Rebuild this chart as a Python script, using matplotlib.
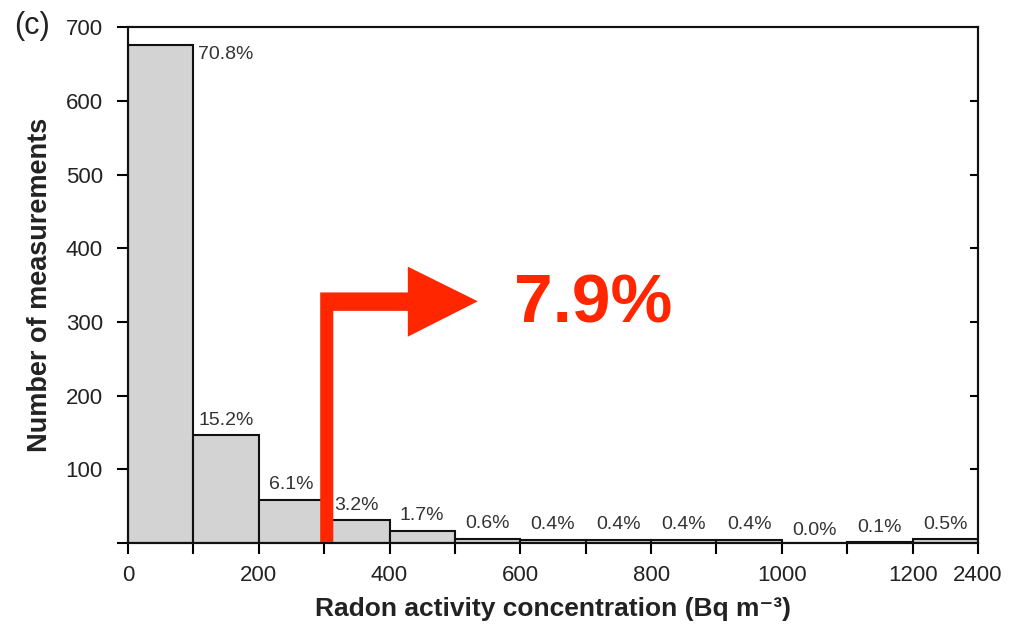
import matplotlib
matplotlib.use("Agg")
import matplotlib.pyplot as plt
from matplotlib.patches import Polygon

plt.rcParams['font.family'] = ['Liberation Sans', 'DejaVu Sans']

# Data
bin_labels = ["0-100", "100-200", "200-300", "300-400", "400-500", "500-600",
              "600-700", "700-800", "800-900", "900-1000", "1000-1100",
              "1100-1200", "1200-2400"]
counts = [676, 146, 59, 31, 17, 6, 4, 4, 4, 4, 0, 1, 5]
pct_labels = ["70.8%", "15.2%", "6.1%", "3.2%", "1.7%", "0.6%", "0.4%",
              "0.4%", "0.4%", "0.4%", "0.0%", "0.1%", "0.5%"]
tick_pos = [0, 100, 200, 300, 400, 500, 600, 700, 800, 900, 1000, 1100, 1200, 1300]
tick_labels = ["0", "", "200", "", "400", "", "600", "", "800", "", "1000", "", "1200", "2400"]
yticks = [100, 200, 300, 400, 500, 600, 700]
highlight = "7.9%"

fig = plt.figure(figsize=(10.14, 6.3), dpi=100)
ax = fig.add_axes([0.1262, 0.138, 0.8383, 0.819])

lefts = [i * 100 for i in range(len(counts))]
ax.bar(lefts, counts, width=100, align='edge', color='#d3d3d3',
       edgecolor='#111111', linewidth=1.5, zorder=2)

pct_fs = 14
for i, (l, c, p) in enumerate(zip(lefts, counts, pct_labels)):
    if i == 0:
        ax.text(l + 107, c - 2, p, ha='left', va='top', fontsize=pct_fs, color='#333333')
    elif c == 0:
        ax.text(l + 50, c + 5, p, ha='center', va='bottom', fontsize=pct_fs, color='#333333')
    else:
        ax.text(l + 50, c + 9, p, ha='center', va='bottom', fontsize=pct_fs, color='#333333')

ax.set_xlim(0, 1300)
ax.set_ylim(0, 700)
ax.set_xticks(tick_pos)
ax.set_xticklabels(tick_labels, fontsize=16, color='#222222')
ax.set_yticks([0] + yticks)
ax.set_yticklabels([""] + [str(v) for v in yticks], fontsize=16, color='#222222')
ax.tick_params(axis='x', direction='out', length=8, width=1.5, pad=8)
ax.tick_params(axis='y', direction='out', length=8, width=1.5, pad=10)

# right-side inward ticks
axr = ax.twinx()
axr.set_ylim(0, 700)
axr.set_yticks([100, 200, 300, 400, 500, 600])
axr.set_yticklabels([])
axr.tick_params(axis='y', direction='in', length=6, width=1.5)

for a in (ax, axr):
    for s in a.spines.values():
        s.set_linewidth(1.5)
        s.set_color('#111111')

ax.set_xlabel("Radon activity concentration (Bq m\u207b\u00b3)",
              fontsize=19, fontweight='bold', labelpad=8, color='#222222')
ax.set_ylabel("Number of measurements", fontsize=19.5, fontweight='bold',
              labelpad=9, color='#222222')

fig.text(0.014, 0.958, "(c)", fontsize=22, color='#222222', va='center')

# red annotation arrow
red = '#ff2600'
arrow = Polygon([(294, 0), (314, 0), (314, 315), (428, 315), (428, 280),
                 (535, 328), (428, 375), (428, 340), (294, 340)],
                closed=True, facecolor=red, edgecolor='none', zorder=5,
                clip_on=False)
ax.add_patch(arrow)
ax.text(590, 323, highlight, color=red, fontsize=50, fontweight='bold',
        ha='left', va='center', zorder=6)

fig.savefig("out.png", dpi=100)
